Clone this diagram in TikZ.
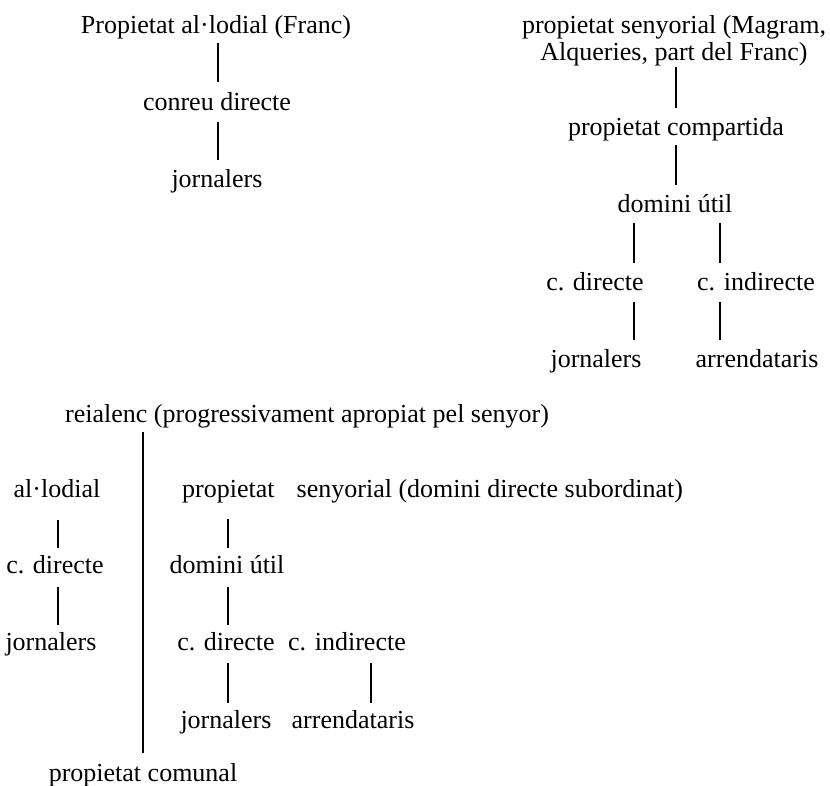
\documentclass[tikz,border=0pt]{standalone}
\usepackage{fontspec}
\setmainfont{Liberation Serif}
\usetikzlibrary{positioning,calc}

\begin{document}
\begin{tikzpicture}[x=1pt, y=1pt,
    font=\fontsize{26}{27}\selectfont,
    lbl/.style={anchor=base, inner sep=0pt},
    link/.style={line width=1.1pt}]
    \useasboundingbox (0,0) rectangle (830,-785);

    % Allodial property (top left)
    \node [lbl] (propAl) at (216,-33) {Propietat al·lodial (Franc)};
    \node [lbl] (conreu) at (217,-110) {conreu directe};
    \node [lbl] (jornA) at (217,-187) {jornalers};
    \draw [link] ($(propAl.base -| conreu.base)+(1,-10)$) -- ($(conreu.base)+(1,28)$);
    \draw [link] ($(conreu.base -| jornA.base)+(1,-12)$) -- ($(jornA.base)+(1,27)$);

    % Seigneurial property (top right)
    \node [lbl, align=center] (propSen) at (674,-60) {propietat senyorial (Magram,\\ Alqueries, part del Franc)};
    \node [lbl] (propComp) at (676,-135) {propietat compartida};
    \node [lbl] (domUtil) at (675,-212) {domini útil};
    \node [lbl] (cDir) at (595,-290) {c. directe};
    \node [lbl] (cInd) at (756,-290) {c. indirecte};
    \node [lbl] (jornB) at (596,-367) {jornalers};
    \node [lbl] (arrB) at (757,-367) {arrendataris};
    \draw [link] ($(propSen.base -| propComp.base)+(0,-7)$) -- ($(propComp.base)+(0,27)$);
    \draw [link] ($(propComp.base -| domUtil.base)+(1,-10)$) -- ($(domUtil.base)+(1,27)$);
    \draw [link] ($(domUtil.base -| cDir.base)+(39,-11)$) -- ($(cDir.base)+(39,27)$);
    \draw [link] ($(domUtil.base -| cInd.base)+(-36,-11)$) -- ($(cInd.base)+(-36,27)$);
    \draw [link] ($(cDir.base -| jornB.base)+(38,-12)$) -- ($(jornB.base)+(38,27)$);
    \draw [link] ($(cInd.base -| arrB.base)+(-37,-12)$) -- ($(arrB.base)+(-37,27)$);

    % Royal land (bottom)
    \node [lbl, anchor=base west] (reial) at (65,-422) {reialenc (progressivament apropiat pel senyor)};
    \node [lbl] (comunal) at (143,-781) {propietat comunal};
    \draw [link] ($(reial.base -| comunal.base)+(0,-10)$) -- ($(comunal.base)+(0,28)$);

    % allodial branch
    \node [lbl] (alod) at (57,-497) {al·lodial};
    \node [lbl] (cDirC) at (55,-573) {c. directe};
    \node [lbl] (jornC) at (51,-650) {jornalers};
    \draw [link] ($(alod.base -| cDirC.base)+(3,-23)$) -- ($(cDirC.base)+(3,25)$);
    \draw [link] ($(cDirC.base -| jornC.base)+(7,-14)$) -- ($(jornC.base)+(7,25)$);

    % seigneurial branch
    \node [lbl, anchor=base west] (propSenC) at (182,-497) {propietat\hspace{0.6em} senyorial (domini directe subordinat)};
    \node [lbl] (domUtilC) at (227,-573) {domini útil};
    \node [lbl] (cDirD) at (226,-650) {c. directe};
    \node [lbl] (cIndD) at (347,-650) {c. indirecte};
    \node [lbl] (jornD) at (226,-728) {jornalers};
    \node [lbl] (arrD) at (353,-728) {arrendataris};
    \draw [link] ($(propSenC.base -| domUtilC.base)+(1,-22)$) -- ($(domUtilC.base)+(1,25)$);
    \draw [link] ($(domUtilC.base -| cDirD.base)+(2,-14)$) -- ($(cDirD.base)+(2,25)$);
    \draw [link] ($(cDirD.base -| jornD.base)+(2,-13)$) -- ($(jornD.base)+(2,25)$);
    \draw [link] ($(cIndD.base -| arrD.base)+(18,-13)$) -- ($(arrD.base)+(18,25)$);
\end{tikzpicture}
\end{document}
